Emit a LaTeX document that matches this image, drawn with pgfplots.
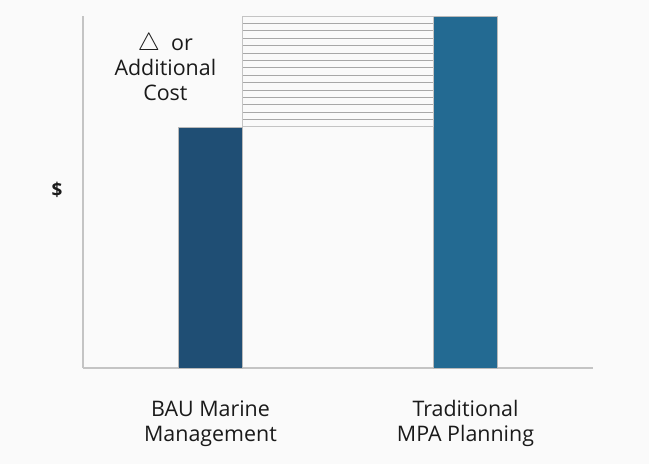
\documentclass[border=0pt]{standalone}
\usepackage{pgfplots}
\pgfplotsset{compat=1.18}
\usepackage{fontspec}
\setmainfont{Open Sans}
\definecolor{bgc}{HTML}{FAFAFA}
\definecolor{bauc}{HTML}{1F4E74}
\definecolor{mpac}{HTML}{236A92}
\definecolor{txtc}{HTML}{1A1A1A}
\definecolor{axc}{HTML}{C4C4C4}
\definecolor{hatchc}{HTML}{A8A8A8}
\begin{document}
\begin{tikzpicture}
\useasboundingbox (0,0) rectangle (649bp,464bp);
\fill[bgc] (0,0) rectangle (649bp,464bp);
\begin{axis}[
  scale only axis,
  width=510bp, height=352bp,
  at={(83bp,96bp)}, anchor=south west,
  xmin=-0.5, xmax=1.5, ymin=0, ymax=10,
  axis x line*=bottom, axis y line*=left,
  axis line style={axc, line width=1.1bp, -},
  xtick={0,1},
  xticklabels={BAU Marine\\Management, Traditional\\MPA Planning},
  xticklabel style={align=center, font=\fontsize{21.5}{25}\selectfont, text=txtc, anchor=north, yshift=-29bp},
  major tick length=0pt,
  ytick=\empty,
  clip=false,
]
% cost bars
\addplot[ybar, bar width=0.25, fill=bauc, draw=gray!55, line width=0.5bp] coordinates {(0,6.85)};
\addplot[ybar, bar width=0.25, fill=mpac, draw=gray!55, line width=0.5bp] coordinates {(1,10)};
% hatched band for the difference between the two costs
\addplot[hatchc, line width=0.7bp, unbounded coords=jump] coordinates {
  (0.125,7.06) (0.875,7.06) (nan,nan)
  (0.125,7.27) (0.875,7.27) (nan,nan)
  (0.125,7.48) (0.875,7.48) (nan,nan)
  (0.125,7.69) (0.875,7.69) (nan,nan)
  (0.125,7.90) (0.875,7.90) (nan,nan)
  (0.125,8.11) (0.875,8.11) (nan,nan)
  (0.125,8.32) (0.875,8.32) (nan,nan)
  (0.125,8.53) (0.875,8.53) (nan,nan)
  (0.125,8.74) (0.875,8.74) (nan,nan)
  (0.125,8.95) (0.875,8.95) (nan,nan)
  (0.125,9.16) (0.875,9.16) (nan,nan)
  (0.125,9.37) (0.875,9.37) (nan,nan)
  (0.125,9.58) (0.875,9.58) (nan,nan)
  (0.125,9.79) (0.875,9.79) (nan,nan)
};
\addplot[axc, line width=0.8bp] coordinates {(0.125,6.85) (0.125,10) (0.875,10) (0.875,6.85) (0.125,6.85)};
\node[align=center, font=\fontsize{21.5}{25}\selectfont, text=txtc] at (axis cs:-0.177,8.56)
  {{\fontsize{26}{25}\selectfont$\bigtriangleup$}\ \ or\\Additional\\Cost};
% y axis label
\node[font=\fontsize{19}{22}\bfseries\selectfont, text=txtc, anchor=center] at (axis description cs:-0.051,0.505) {\$};
\end{axis}
\end{tikzpicture}
\end{document}
